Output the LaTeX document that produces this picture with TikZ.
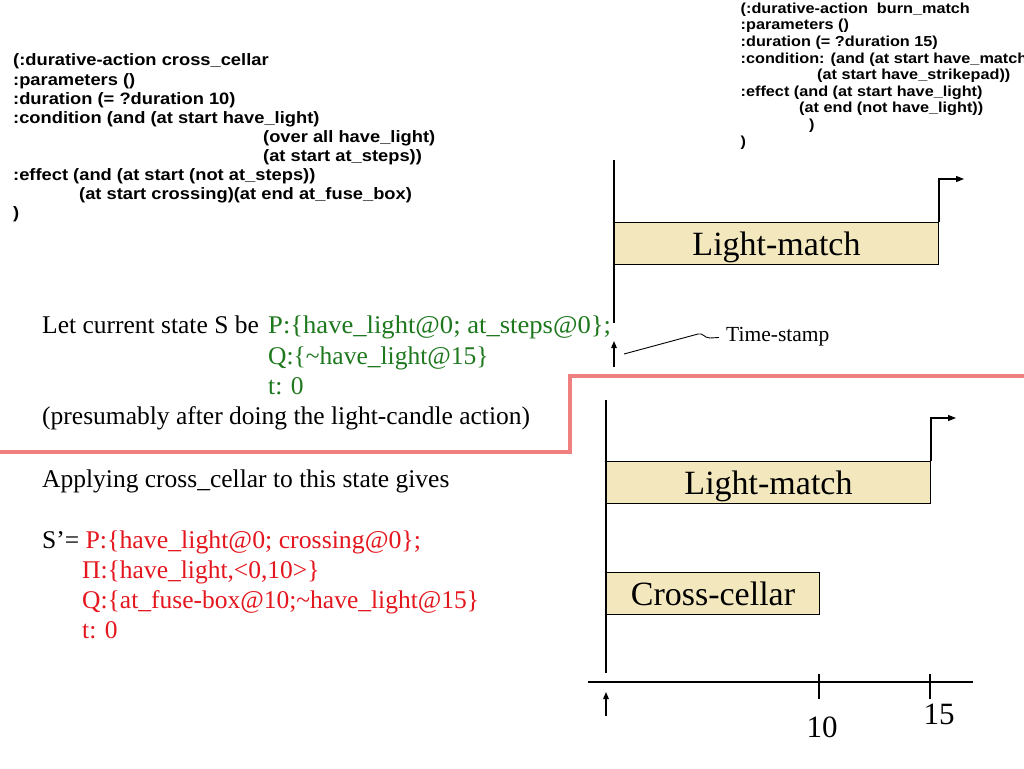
\documentclass[tikz,border=0pt]{standalone}
\usepackage{fontspec}
\usepackage{graphicx}
\setmainfont{Liberation Serif}
\newfontfamily\codefont{Liberation Sans}
\usetikzlibrary{arrows.meta}
\definecolor{boxfill}{RGB}{243,232,189}
\definecolor{redline}{RGB}{240,128,128}
\definecolor{sgreen}{RGB}{30,120,30}
\definecolor{sred}{RGB}{228,22,30}
\newcommand\codexL[1]{\scalebox{1.11}[1]{#1}}
\newcommand\codexR[1]{\scalebox{1.12}[1]{#1}}
\begin{document}
\begin{tikzpicture}[x=1pt,y=-1pt,
 codeL/.style={anchor=base west,inner sep=0pt,font=\codefont\bfseries\fontsize{16.5}{19}\selectfont},
 codeR/.style={anchor=base west,inner sep=0pt,font=\codefont\bfseries\fontsize{14.5}{16}\selectfont},
 prose/.style={anchor=base west,inner sep=0pt,font=\fontsize{25.5}{30}\selectfont},
 taskbox/.style={draw=black,fill=boxfill,line width=1pt,inner sep=0pt,anchor=north west,
   text height=23pt,text depth=0pt,font=\fontsize{34}{40}\selectfont},
 axisline/.style={draw=black,line width=1.1pt},
 arrowline/.style={draw=black,line width=1.1pt,-{Triangle[length=8pt,width=6pt]}},
 upar/.style={draw=black,line width=1.3pt,-{Triangle[length=7pt,width=5.5pt]}},
 num/.style={anchor=base,inner sep=0pt,font=\fontsize{31}{36}\selectfont},
]
\useasboundingbox[fill=white] (0,0) rectangle (1024,768);

% ---- left code block
\node[codeL] (cl1) at (13,66)  {\codexL{(:durative-action cross\_cellar}};
\node[codeL] (cl2) at (13,85)  {\codexL{:parameters ()}};
\node[codeL] (cl3) at (13,104) {\codexL{:duration (= ?duration 10)}};
\node[codeL] (cl4) at (13,123) {\codexL{:condition (and (at start have\_light)}};
\node[codeL] (cl5) at (263,142) {\codexL{(over all have\_light)}};
\node[codeL] (cl6) at (263,161) {\codexL{(at start at\_steps))}};
\node[codeL] (cl7) at (13,180) {\codexL{:effect (and (at start (not at\_steps))}};
\node[codeL] (cl8) at (79,199) {\codexL{(at start crossing)(at end at\_fuse\_box)}};
\node[codeL] (cl9) at (13,218) {\codexL{)}};

% ---- right code block
\node[codeR] (cr1) at (740.5,13.3)  {\codexR{(:durative-action\ \ burn\_match}};
\node[codeR] (cr2) at (740.5,29.9)  {\codexR{:parameters ()}};
\node[codeR] (cr3) at (740.5,46.5)  {\codexR{:duration (= ?duration 15)}};
\node[codeR] (cr4) at (740.5,63.1)  {\codexR{:condition: (and (at start have\_match}};
\node[codeR] (cr5) at (817,79.7)    {\codexR{(at start have\_strikepad))}};
\node[codeR] (cr6) at (740.5,96.3)  {\codexR{:effect (and (at start have\_light)}};
\node[codeR] (cr7) at (799,112.9)   {\codexR{(at end (not have\_light))}};
\node[codeR] (cr8) at (809,129.5)   {\codexR{)}};
\node[codeR] (cr9) at (740.5,146.1) {\codexR{)}};

% ---- prose
\node[prose] (s1) at (42,333) {Let current state S be \hspace{3pt}\textcolor{sgreen}{\scalebox{1.043}[1]{P:\{have\_light@0; at\_steps@0\};}}};
\node[prose,text=sgreen] (s2) at (268,364) {Q:\{\textasciitilde have\_light@15\}};
\node[prose,text=sgreen] (s3) at (268,394) {t: 0};
\node[prose] (s4) at (42,424) {(presumably after doing the light-candle action)};
\node[prose] (s5) at (42,487) {Applying cross\_cellar to this state gives};
\node[prose] (s6) at (42,548) {S’= \textcolor{sred}{\scalebox{1.012}[1]{P:\{have\_light@0; crossing@0\};}}};
\node[prose,text=sred] (s7) at (82,578) {Π:\{have\_light,<0,10>\}};
\node[prose,text=sred] (s8) at (82,608) {Q:\{at\_fuse-box@10;\textasciitilde have\_light@15\}};
\node[prose,text=sred] (s9) at (82,638) {t: 0};

% ---- red separator
\draw[redline,line width=4pt] (0,452) -- (570,452) -- (570,376) -- (1024,376);

% ---- top timeline
\coordinate (t1top) at (614,160);
\coordinate (t1bot) at (614,323);
\draw[axisline] (t1top) -- (t1bot);
\node[taskbox,minimum width=324pt,minimum height=42pt] (lm1) at (614,222) {Light-match};
\coordinate (lm1end) at (964,179);
\draw[arrowline] (lm1.north east) |- (lm1end);
\coordinate (a1s) at (614,367);
\coordinate (a1e) at (614,341);
\draw[upar] (a1s) -- (a1e);
\node[anchor=base west,inner sep=0pt,font=\fontsize{21.5}{24}\selectfont] (ts) at (726,341) {Time-stamp};
\coordinate (c0) at (624,354);
\coordinate (c1) at (698,334);
\coordinate (c2) at (719,337.5);
\draw[line width=0.9pt] (c0) -- (c1) .. controls (703,332.5) and (704,338) .. (710,338) -- (c2);

% ---- bottom timeline
\coordinate (t2top) at (606,400);
\coordinate (t2bot) at (606,673);
\draw[axisline] (t2top) -- (t2bot);
\node[taskbox,minimum width=324pt,minimum height=42pt] (lm2) at (606,461) {Light-match};
\coordinate (lm2end) at (956,418);
\draw[arrowline] (lm2.north east) |- (lm2end);
\node[taskbox,minimum width=213pt,minimum height=42pt] (cc) at (606,572) {Cross-cellar};
\coordinate (ax0) at (588,682);
\coordinate (ax1) at (973,682);
\draw[axisline] (ax0) -- (ax1);
\coordinate (tk10a) at (819,674);
\coordinate (tk10b) at (819,699);
\coordinate (tk15a) at (930,674);
\coordinate (tk15b) at (930,699);
\draw[axisline] (tk10a) -- (tk10b);
\draw[axisline] (tk15a) -- (tk15b);
\coordinate (a2s) at (606,716);
\coordinate (a2e) at (606,692);
\draw[upar] (a2s) -- (a2e);
\node[num] (n10) at (822,737) {10};
\node[num] (n15) at (939,724) {15};
\end{tikzpicture}
\end{document}
